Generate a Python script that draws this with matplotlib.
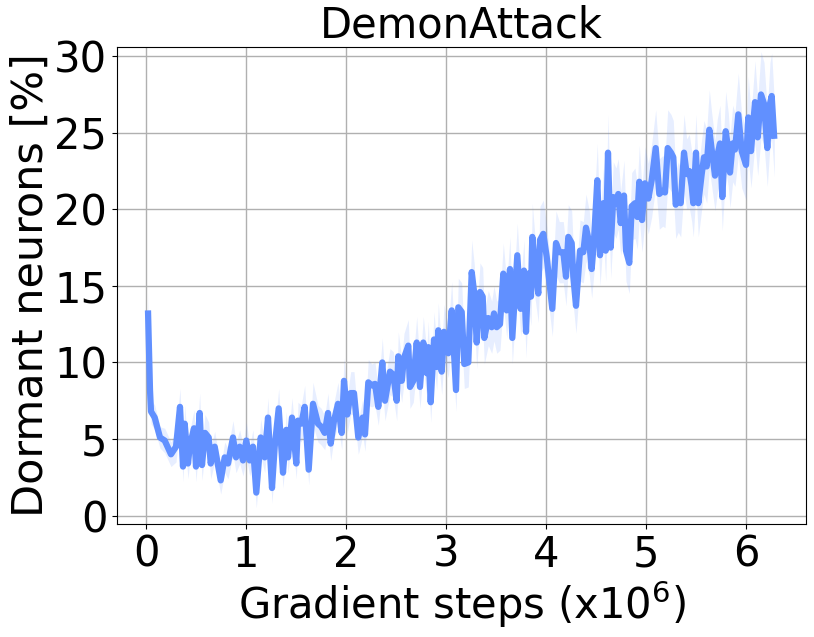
import matplotlib
matplotlib.use("Agg")
import matplotlib.pyplot as plt
import numpy as np

# pixel-read positions converted to data: x in millions of gradient steps
steps_px = [148, 150, 151, 154.7, 160, 164.7, 171, 176, 180, 183, 184.7, 188, 189.7, 194, 196, 199.7, 202, 205,
            208.7, 210.7, 214.7, 220.7, 224.7, 228, 233, 236, 239.7, 243, 246.3, 249.7, 253, 256.3, 260.7, 264.7,
            268, 272, 274.7, 278.7, 283, 286.3, 288, 292, 296.3, 298, 301.3, 304.7, 308.7, 313, 318, 321.3, 324.7,
            328, 330.7, 334, 338, 341.7, 344, 347.3, 350.7, 354, 358.3, 362.7, 365, 368.3, 371.7, 375, 378.3, 382.3,
            385, 390, 393.3, 396.7, 398.3, 401.7, 404, 408.3, 410, 413.3, 416.7, 420, 423.3, 426.7, 428.3, 430.7,
            434, 436.7, 438.3, 441.7, 444, 448.3, 451.7, 456, 458.3, 461.7, 464.3, 468.3, 471.7, 474.3, 476.7, 480,
            482.7, 484.3, 488.3, 491.7, 494, 496.7, 500, 503.3, 506.7, 510, 512.3, 517.3, 520.7, 524, 526, 528.3,
            531, 532.3, 535, 538.3, 540, 543.3, 546.7, 552.3, 556, 559.3, 563.3, 566, 568.3, 571.7, 573.3, 576,
            580, 583.3, 586, 589.3, 591.7, 594, 597.3, 600, 603.3, 605.7, 608, 610.7, 613.3, 616, 618.3, 620.7,
            624, 626, 629.3, 631.7, 635, 637.3, 639.3, 642, 645, 648.3, 651.7, 655.7, 659.3, 662.7, 665, 667.7,
            671, 673.3, 675.7, 678.3, 680.7, 684, 686.7, 689.3, 691.7, 693.3, 696, 698.3, 701.7, 704, 706.7,
            709.3, 711.7, 715, 717.3, 720, 722.3, 725.7, 728.3, 730, 732.7, 735, 738.3, 741.7, 746, 748.3, 751,
            755, 757.7, 761, 764, 767.3, 770, 771.7, 774.3]
gradient_steps = [(p - 146) / 100 for p in steps_px]

dormant = [13.4, 8.2, 6.8, 6.4, 5.1, 4.9, 4.0, 4.5, 7.1, 3.2, 6.0, 3.4, 4.5, 5.7, 3.2, 6.7, 3.3, 5.4,
           5.1, 3.4, 4.5, 2.3, 3.8, 3.4, 5.1, 3.8, 4.5, 3.6, 4.9, 3.6, 4.5, 1.5, 5.1, 3.8,
           6.4, 1.8, 4.5, 7.0, 2.8, 5.6, 3.8, 6.4, 3.4, 6.2, 6.0, 7.1, 3.0, 7.3, 6.0, 5.8, 5.4,
           6.7, 4.7, 6.2, 7.3, 5.4, 8.8, 6.6, 8.0, 8.0, 5.1, 6.4, 5.3, 8.7, 8.5, 8.6, 7.1, 10.0,
           7.5, 9.4, 9.2, 7.5, 10.4, 8.8, 10.3, 11.1, 8.4, 8.8, 11.3, 8.4, 11.3, 9.3, 11.0, 7.4,
           11.5, 9.7, 12.1, 9.4, 12.0, 10.6, 13.4, 8.2, 13.6, 13.3, 9.9, 10.0, 15.9, 14.5, 11.3, 14.6,
           14.3, 11.6, 12.9, 12.3, 13.2, 12.3, 12.5, 15.8, 13.4, 16.1, 11.6, 17.0, 13.5, 16.0, 12.0, 15.8,
           14.3, 18.2, 16.2, 14.5, 18.0, 18.4, 16.9, 13.5, 17.8, 17.2, 17.2, 15.6, 18.2, 17.8, 15.6, 13.7,
           17.3, 17.2, 18.8, 17.8, 16.1, 18.0, 21.9, 17.0, 20.4, 17.3, 23.7, 17.5, 20.8, 20.4, 21.0, 19.1,
           20.9, 17.3, 16.5, 20.2, 20.4, 19.5, 21.8, 19.3, 21.7, 20.7, 21.9, 24.0, 21.0, 21.2, 21.1, 24.0,
           23.7, 23.4, 20.3, 20.8, 20.4, 23.7, 22.3, 22.5, 21.5, 20.4, 23.7, 20.4, 22.3, 23.4, 22.8,
           25.2, 23.9, 22.2, 23.5, 24.3, 20.8, 25.1, 23.9, 22.4, 24.3, 23.9, 26.2, 23.8, 22.9, 26.0, 23.8,
           27.0, 24.7, 27.5, 26.9, 24.0, 26.9, 27.4, 24.6]

# half-width of the light band around the mean (read roughly)
band_lo = [1.2, 1.0, 0.8, 0.8, 0.7, 0.8, 0.8, 1.0, 1.2, 1.0, 1.2, 1.0, 1.0, 1.2, 1.0, 1.3, 1.0, 1.2,
           1.0, 1.0, 1.0, 0.9, 1.0, 1.0, 1.1, 1.0, 1.1, 1.0, 1.2, 1.0, 1.1, 1.0, 1.2, 1.0,
           1.3, 1.0, 1.1, 1.3, 1.0, 1.2, 1.0, 1.3, 1.0, 1.2, 1.2, 1.4, 1.0, 1.4, 1.2, 1.2, 1.1,
           1.3, 1.1, 1.2, 1.4, 1.1, 1.5, 1.2, 1.4, 1.4, 1.1, 1.2, 1.1, 1.5, 1.4, 1.4, 1.2, 1.6,
           1.3, 1.5, 1.5, 1.3, 1.6, 1.4, 1.6, 1.7, 1.4, 1.4, 1.7, 1.4, 1.7, 1.5, 1.7, 1.3,
           1.8, 1.5, 1.8, 1.5, 1.8, 1.6, 1.9, 1.4, 1.9, 1.9, 1.6, 1.6, 2.1, 1.9, 1.7, 1.9,
           1.9, 1.7, 1.8, 1.7, 1.8, 1.7, 1.7, 2.0, 1.8, 2.1, 1.7, 2.1, 1.8, 2.0, 1.7, 2.0,
           1.9, 2.2, 2.0, 1.9, 2.2, 2.2, 2.0, 1.8, 2.1, 2.0, 2.0, 1.9, 2.1, 2.1, 1.9, 1.8,
           2.0, 2.0, 2.2, 2.1, 1.9, 2.1, 2.4, 2.0, 2.3, 2.0, 2.5, 2.0, 2.3, 2.3, 2.3, 2.1,
           2.3, 2.0, 2.0, 2.2, 2.3, 2.1, 2.4, 2.1, 2.4, 2.3, 2.4, 2.5, 2.3, 2.3, 2.3, 2.5,
           2.5, 2.4, 2.2, 2.3, 2.2, 2.5, 2.3, 2.4, 2.3, 2.2, 2.5, 2.2, 2.3, 2.4, 2.4,
           2.6, 2.4, 2.3, 2.4, 2.5, 2.2, 2.6, 2.4, 2.3, 2.5, 2.4, 2.7, 2.4, 2.3, 2.7, 2.4,
           2.7, 2.5, 2.8, 2.7, 2.5, 2.7, 2.8, 2.5]

title = "DemonAttack"
xlabel = "Gradient steps (x10$^6$)"
ylabel = "Dormant neurons [%]"
xticks = [0, 1, 2, 3, 4, 5, 6]
yticks = [0, 5, 10, 15, 20, 25, 30]

color = "#6190ff"

fig = plt.figure(figsize=(8.14, 6.37), dpi=100)
ax = fig.add_axes([117 / 814, 1 - 524 / 637, (806 - 117) / 814, (524 - 47) / 637])

x = np.array(gradient_steps)
y = np.array(dormant)
s = np.array(band_lo)
ax.fill_between(x, y - s, y + s, color=color, alpha=0.15, linewidth=0)
ax.plot(x, y, color=color, linewidth=4.5, solid_joinstyle="round", solid_capstyle="butt")

ax.set_xlim(-0.29, 6.6)
ax.set_ylim(-0.55, 30.6)
ax.set_xticks(xticks)
ax.set_yticks(yticks)
ax.tick_params(labelsize=30)
ax.grid(True, color="#b0b0b0", linewidth=1.0)
ax.set_axisbelow(True)
ax.set_title(title, fontsize=30, pad=6)
ax.set_xlabel(xlabel, fontsize=30, labelpad=2)
ax.set_ylabel(ylabel, fontsize=31, labelpad=2)

fig.savefig("out.png", dpi=100)
